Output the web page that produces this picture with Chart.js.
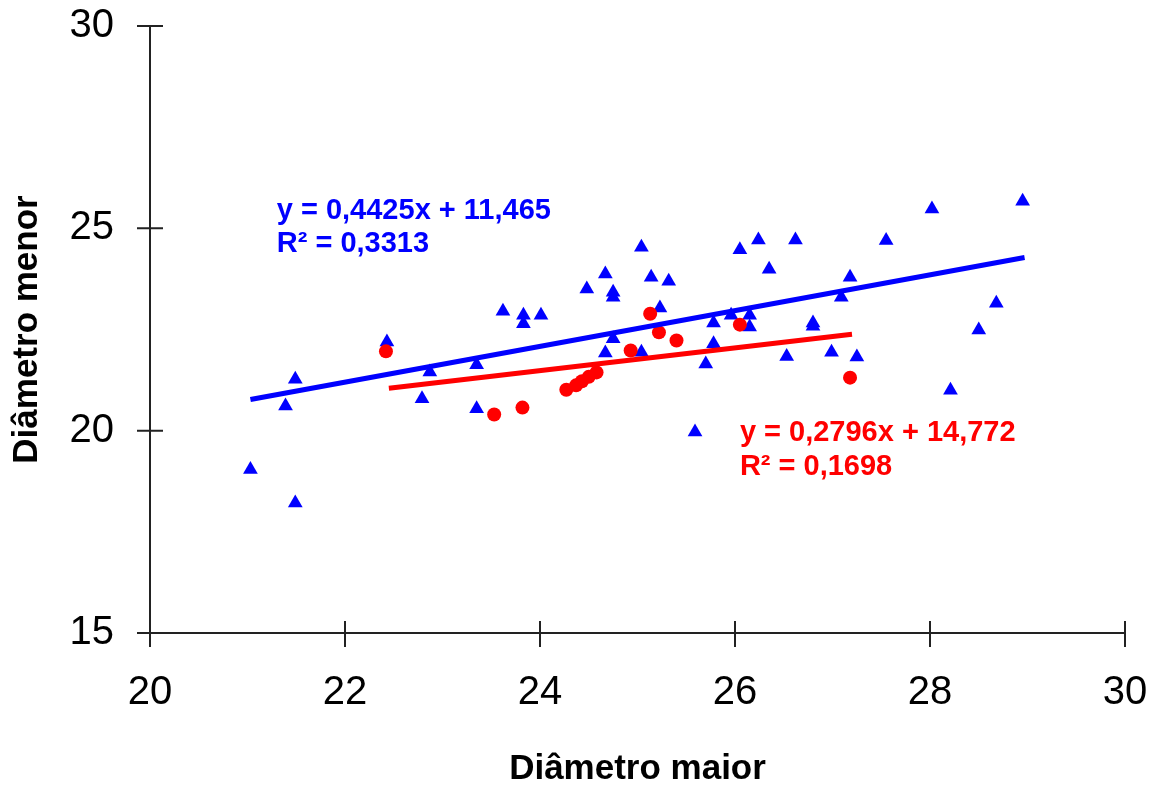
<!DOCTYPE html>
<html>
<head>
<meta charset="utf-8">
<script src="https://cdn.jsdelivr.net/npm/chart.js@4.4.1/dist/chart.umd.min.js"></script>
<style>
  body { margin: 0; background: #fff; }
  #wrap { width: 1155px; height: 787px; }
</style>
</head>
<body>
<div id="wrap"><canvas id="myChart" width="1155" height="787"></canvas></div>
<script>
// blue series (triangles)
var blueX = [21.03, 21.39, 21.49, 21.49, 22.43, 22.79, 22.87, 23.35, 23.35, 23.62,
             23.83, 23.83, 24.01, 24.48, 24.67, 24.75, 24.75, 24.75, 24.67, 25.04,
             25.14, 25.32, 25.23, 25.04, 25.59, 25.70, 25.78, 25.78, 25.96, 26.15,
             26.15, 26.05, 26.24, 26.35, 26.53, 26.62, 26.80, 26.80, 26.99, 27.09,
             27.18, 27.25, 27.55, 28.02, 28.21, 28.50, 28.68, 28.95];
var blueY = [19.04, 20.61, 21.27, 18.21, 22.19, 20.79, 21.45, 21.63, 20.54, 22.95,
             22.85, 22.64, 22.85, 23.50, 23.87, 23.42, 23.30, 22.27, 21.92, 24.53,
             23.79, 23.69, 23.03, 21.94, 19.97, 21.65, 22.66, 22.15, 22.85, 22.85,
             22.56, 24.47, 24.71, 23.99, 21.83, 24.71, 22.66, 22.58, 21.94, 23.30,
             23.79, 21.82, 24.70, 25.48, 21.00, 22.49, 23.15, 25.67];
// red series (circles)
var redX = [22.42, 23.53, 23.82, 24.27, 24.37, 24.43, 24.50, 24.58, 24.93, 25.13,
            25.22, 25.40, 26.05, 27.18];
var redY = [21.96, 20.40, 20.57, 21.01, 21.12, 21.22, 21.33, 21.44, 21.98, 22.89,
            22.43, 22.23, 22.62, 21.31];
// trend line ends
var blueTrendX = [21.03, 28.97];
var blueTrendY = [20.77, 24.28];
var redTrendX = [22.45, 27.20];
var redTrendY = [21.05, 22.38];
// equation labels
var blueEq = ['y = 0,4425x + 11,465', 'R\u00b2 = 0,3313'];
var redEq = ['y = 0,2796x + 14,772', 'R\u00b2 = 0,1698'];
var xTicks = [20, 22, 24, 26, 28, 30];
var yTicks = [15, 20, 25, 30];

function pts(xs, ys) {
    return xs.map(function(x, i) { return {x: x, y: ys[i]}; });
}

var BLUE = '#0000ff';
var RED = '#ff0000';
var FONT = "'Liberation Sans', Arial, sans-serif";

function noPad(s) {
    s.paddingTop = 0; s.paddingBottom = 0;
    s.paddingLeft = 0; s.paddingRight = 0;
}

// axis lines with ticks crossing them, plus the trend equations
var axisPlugin = {
    id: 'axisPlugin',
    afterDraw: function(chart) {
        var ctx = chart.ctx;
        var xs = chart.scales.x, ys = chart.scales.y;
        var x0 = xs.getPixelForValue(20), x1 = xs.getPixelForValue(30);
        var y0 = ys.getPixelForValue(15), y1 = ys.getPixelForValue(30);
        ctx.save();
        ctx.strokeStyle = '#222';
        ctx.lineWidth = 2;
        ctx.beginPath();
        ctx.moveTo(x0, y1); ctx.lineTo(x0, y0);
        ctx.moveTo(x0, y0); ctx.lineTo(x1, y0);
        yTicks.forEach(function(v) {
            var p = ys.getPixelForValue(v);
            ctx.moveTo(x0 - 13, p); ctx.lineTo(x0 + 13, p);
        });
        xTicks.forEach(function(v) {
            var p = xs.getPixelForValue(v);
            ctx.moveTo(p, y0 - 12); ctx.lineTo(p, y0 + 14);
        });
        ctx.stroke();

        ctx.font = 'bold 29px ' + FONT;
        ctx.textBaseline = 'middle';
        ctx.textAlign = 'left';
        ctx.fillStyle = BLUE;
        ctx.fillText(blueEq[0], xs.getPixelForValue(21.30), ys.getPixelForValue(25.44));
        ctx.fillText(blueEq[1], xs.getPixelForValue(21.30), ys.getPixelForValue(24.62));
        ctx.fillStyle = RED;
        ctx.fillText(redEq[0], xs.getPixelForValue(26.05), ys.getPixelForValue(19.93));
        ctx.fillText(redEq[1], xs.getPixelForValue(26.05), ys.getPixelForValue(19.10));
        ctx.restore();
    }
};

var ctx = document.getElementById('myChart').getContext('2d');
var chart = new Chart(ctx, {
    type: 'scatter',
    data: {
        datasets: [{
            label: 'trend blue',
            data: pts(blueTrendX, blueTrendY),
            showLine: true,
            borderColor: BLUE,
            borderWidth: 5,
            pointRadius: 0
        }, {
            label: 'trend red',
            data: pts(redTrendX, redTrendY),
            showLine: true,
            borderColor: RED,
            borderWidth: 5,
            pointRadius: 0
        }, {
            label: 'red',
            data: pts(redX, redY),
            pointStyle: 'circle',
            pointRadius: 7,
            backgroundColor: RED,
            borderColor: RED,
            borderWidth: 0
        }, {
            label: 'blue',
            data: pts(blueX, blueY),
            pointStyle: 'triangle',
            pointRadius: 8.5,
            backgroundColor: BLUE,
            borderColor: BLUE,
            borderWidth: 0
        }]
    },
    options: {
        responsive: false,
        animation: false,
        layout: { padding: { top: 26, right: 30, left: 0, bottom: 0 } },
        plugins: {
            legend: { display: false },
            tooltip: { enabled: false }
        },
        scales: {
            x: {
                type: 'linear',
                min: 20,
                max: 30,
                afterFit: function(s) { s.height = 154; noPad(s); },
                grid: { display: true, drawOnChartArea: false, color: 'rgba(0,0,0,0)', tickLength: 14 },
                border: { display: false },
                ticks: {
                    stepSize: 2,
                    padding: 22,
                    color: '#000',
                    font: { family: FONT, size: 40 }
                },
                title: {
                    display: true,
                    text: 'Diâmetro maior',
                    color: '#000',
                    font: { family: FONT, size: 35, weight: 'bold', lineHeight: 1 },
                    padding: { top: 0, bottom: 0 }
                }
            },
            y: {
                type: 'linear',
                min: 15,
                max: 30,
                afterFit: function(s) { s.width = 150; noPad(s); },
                grid: { display: true, drawOnChartArea: false, color: 'rgba(0,0,0,0)', tickLength: 13 },
                border: { display: false },
                ticks: {
                    stepSize: 5,
                    padding: 23,
                    color: '#000',
                    font: { family: FONT, size: 40 }
                },
                title: {
                    display: true,
                    text: 'Diâmetro menor',
                    color: '#000',
                    font: { family: FONT, size: 35, weight: 'bold', lineHeight: 1 },
                    padding: { top: 10, bottom: 0 }
                }
            }
        }
    },
    plugins: [axisPlugin]
});
</script>
</body>
</html>
